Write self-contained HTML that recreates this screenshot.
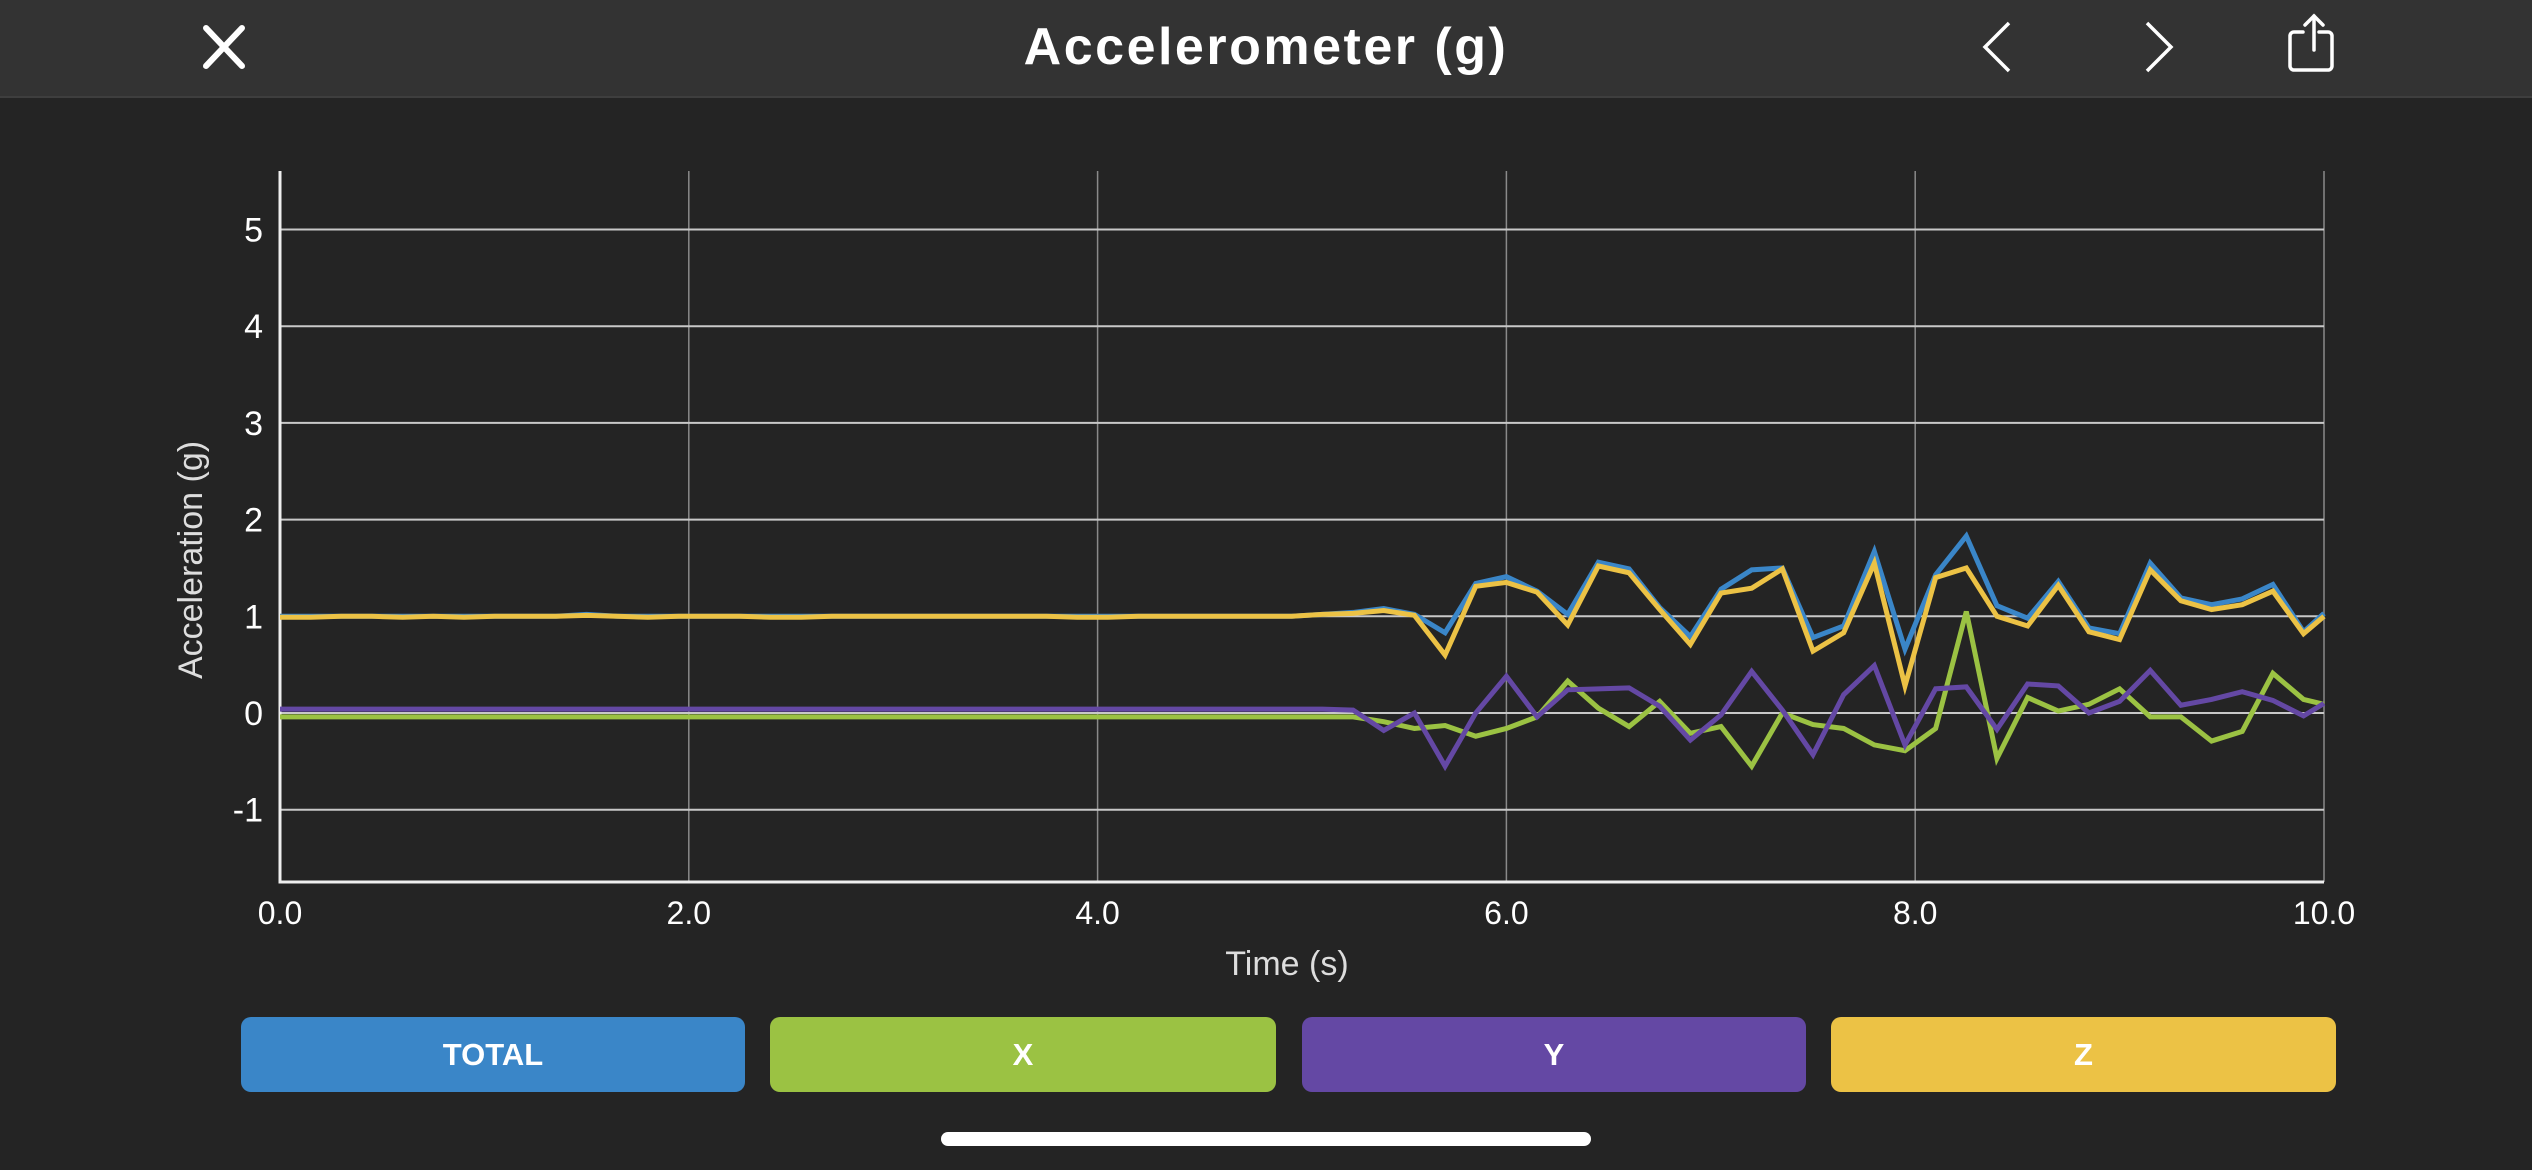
<!DOCTYPE html>
<html><head><meta charset="utf-8"><style>
html,body{margin:0;padding:0;background:#242424;width:2532px;height:1170px;overflow:hidden;font-family:"Liberation Sans",sans-serif}
.hdr{position:absolute;left:0;top:0;width:2532px;height:96px;background:#333;border-bottom:2px solid #3e3e3e}
.title{position:absolute;left:0;width:2532px;top:17px;text-align:center;color:#fff;font-weight:bold;font-size:52px;letter-spacing:2.5px}
.btn{position:absolute;top:1017px;height:75px;border-radius:10px;color:#fff;font-weight:bold;font-size:31px;display:flex;align-items:center;justify-content:center}
</style></head><body>
<div class="hdr">
<div class="title">Accelerometer (g)</div>
<svg style="position:absolute;left:0;top:0" width="2532" height="96">
<g stroke="#fff" stroke-width="6" stroke-linecap="round"><line x1="206" y1="28" x2="242" y2="66"/><line x1="242" y1="28" x2="206" y2="66"/></g>
<polyline points="2009,23 1985,47 2009,71" fill="none" stroke="#fff" stroke-width="3.5"/>
<polyline points="2147,23 2171,47 2147,71" fill="none" stroke="#fff" stroke-width="3.5"/>
<g fill="none" stroke="#fff" stroke-width="3.5" stroke-linecap="round"><path d="M2303,32 h-9 a4,4 0 0 0 -4,4 v30 a4,4 0 0 0 4,4 h34 a4,4 0 0 0 4,-4 v-30 a4,4 0 0 0 -4,-4 h-9"/><line x1="2314" y1="16" x2="2314" y2="50"/><polyline points="2305,25 2314,16 2323,25"/></g>
</svg>
</div>
<svg id="chart" style="position:absolute;left:0;top:0" width="2532" height="1000"></svg>
<div class="btn" style="left:241px;width:504px;background:#3a86c8">TOTAL</div>
<div class="btn" style="left:770px;width:506px;background:#9bc243">X</div>
<div class="btn" style="left:1302px;width:504px;background:#6448a4">Y</div>
<div class="btn" style="left:1831px;width:505px;background:#ecc245">Z</div>
<div style="position:absolute;left:941px;top:1132px;width:650px;height:14px;border-radius:7px;background:#fff"></div>
<script>
const times=[0,0.15,0.3,0.45,0.6,0.75,0.9,1.05,1.2,1.35,1.5,1.65,1.8,1.95,2.1,2.25,2.4,2.55,2.7,2.85,3.0,3.15,3.3,3.45,3.6,3.75,3.9,4.05,4.2,4.35,4.5,4.65,4.8,4.95,5.1,5.25,5.4,5.55,5.7,5.85,6.0,6.15,6.3,6.45,6.6,6.75,6.9,7.05,7.2,7.35,7.5,7.65,7.8,7.95,8.1,8.25,8.4,8.55,8.7,8.85,9.0,9.15,9.3,9.45,9.6,9.75,9.9,10.0];
const zVals=[0.99,0.99,1.0,1.0,0.99,1.0,0.99,1.0,1.0,1.0,1.01,1.0,0.99,1.0,1.0,1.0,0.99,0.99,1.0,1.0,1.0,1.0,1.0,1.0,1.0,1.0,0.99,0.99,1.0,1.0,1.0,1.0,1.0,1.0,1.02,1.03,1.06,1.01,0.60,1.31,1.35,1.25,0.91,1.52,1.45,1.07,0.71,1.24,1.29,1.49,0.64,0.83,1.55,0.28,1.40,1.50,1.0,0.90,1.32,0.84,0.76,1.48,1.16,1.07,1.12,1.26,0.82,1.0];
const totalVals=[1.0,1.0,1.0,1.0,1.0,1.0,1.0,1.0,1.0,1.0,1.02,1.0,1.0,1.0,1.0,1.0,1.0,1.0,1.0,1.0,1.0,1.0,1.0,1.0,1.0,1.0,1.0,1.0,1.0,1.0,1.0,1.0,1.0,1.0,1.02,1.04,1.08,1.02,0.83,1.34,1.41,1.26,1.02,1.56,1.49,1.09,0.79,1.28,1.48,1.50,0.78,0.90,1.67,0.66,1.43,1.83,1.11,0.98,1.36,0.88,0.82,1.55,1.19,1.12,1.18,1.33,0.84,1.03];
const xVals=[-0.04,-0.04,-0.04,-0.04,-0.04,-0.04,-0.04,-0.04,-0.04,-0.04,-0.04,-0.04,-0.04,-0.04,-0.04,-0.04,-0.04,-0.04,-0.04,-0.04,-0.04,-0.04,-0.04,-0.04,-0.04,-0.04,-0.04,-0.04,-0.04,-0.04,-0.04,-0.04,-0.04,-0.04,-0.04,-0.04,-0.09,-0.16,-0.13,-0.24,-0.16,-0.04,0.33,0.05,-0.14,0.12,-0.21,-0.14,-0.55,0.0,-0.12,-0.16,-0.33,-0.39,-0.16,1.05,-0.47,0.16,0.02,0.09,0.25,-0.04,-0.04,-0.29,-0.19,0.41,0.14,0.09];
const yVals=[0.04,0.04,0.04,0.04,0.04,0.04,0.04,0.04,0.04,0.04,0.04,0.04,0.04,0.04,0.04,0.04,0.04,0.04,0.04,0.04,0.04,0.04,0.04,0.04,0.04,0.04,0.04,0.04,0.04,0.04,0.04,0.04,0.04,0.04,0.04,0.03,-0.18,0.0,-0.55,0.0,0.38,-0.04,0.24,0.25,0.26,0.07,-0.28,-0.02,0.43,0.03,-0.43,0.19,0.49,-0.33,0.25,0.27,-0.17,0.30,0.28,0.0,0.12,0.44,0.08,0.14,0.22,0.13,-0.03,0.10];
const yTicks=[-1,0,1,2,3,4,5];
const xTicks=[0,2,4,6,8,10];
const xTickLabels=["0.0","2.0","4.0","6.0","8.0","10.0"];
const NS="http://www.w3.org/2000/svg";
const svg=document.getElementById('chart');
const X0=280,X1=2324,Y0=713,U=96.7,YTOP=171,YBOT=882;
function sx(t){return X0+(X1-X0)*t/10;}
function sy(v){return Y0-v*U;}
function mk(tag,attrs,parent){const e=document.createElementNS(NS,tag);for(const k in attrs)e.setAttribute(k,attrs[k]);(parent||svg).appendChild(e);return e;}
xTicks.forEach((t,i)=>{
  if(t>0){const g=mk('line',{x1:sx(t),x2:sx(t),y1:YTOP,y2:YBOT,stroke:'#8a8a8a','stroke-width':1.5});
  
  }
  const l=mk('text',{x:sx(t),y:924,fill:'#fff','font-size':32,'text-anchor':'middle','font-family':'Liberation Sans, sans-serif'});
  l.textContent=xTickLabels[i];
  
  
});
yTicks.forEach(v=>{
  const g=mk('line',{x1:X0,x2:X1,y1:sy(v),y2:sy(v),stroke:'#c8c8c8','stroke-width':2});
  
  
  const l=mk('text',{x:263,y:sy(v)+12,fill:'#fff','font-size':34,'text-anchor':'end','font-family':'Liberation Sans, sans-serif'});
  l.textContent=String(v);
  
  
});
const ax=mk('path',{d:`M${X0},${YTOP} V${YBOT} H${X1}`,fill:'none',stroke:'#eee','stroke-width':3});


const series=[['total-line',totalVals,'#3a86c8'],['z-line',zVals,'#ecc245'],['x-line',xVals,'#9bc243'],['y-line',yVals,'#6448a4']];
series.forEach(s=>{
  const p=mk('polyline',{points:times.map((t,i)=>sx(t)+','+sy(s[1][i])).join(' '),fill:'none',stroke:s[2],'stroke-width':5,'stroke-linejoin':'miter'});
  
  
});
const xt=mk('text',{x:1287,y:975,fill:'#ddd','font-size':34,'text-anchor':'middle','font-family':'Liberation Sans, sans-serif'});
xt.textContent='Time (s)';


const yt=mk('text',{x:0,y:0,fill:'#ddd','font-size':34,'text-anchor':'middle','font-family':'Liberation Sans, sans-serif',transform:'translate(202,560) rotate(-90)'});
yt.textContent='Acceleration (g)';


</script>
</body></html>
